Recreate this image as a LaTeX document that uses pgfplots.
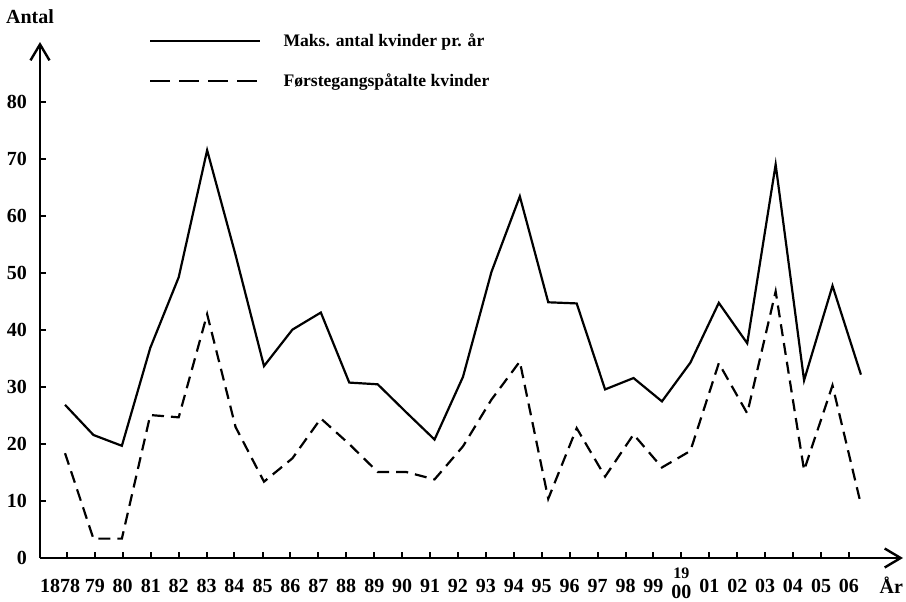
\documentclass[border=0pt]{standalone}
\usepackage{fontspec}
\setmainfont{Liberation Serif}
\usepackage{pgfplots}
\pgfplotsset{compat=1.18}
\usetikzlibrary{arrows.meta}

% 1 px of the reference = 0.5pt
\newcommand\tickfont{\bfseries\fontsize{10}{11}\selectfont}
\newcommand\legfont{\bfseries\fontsize{8.8}{10}\selectfont}

\begin{document}
\begin{tikzpicture}
\begin{axis}[
  name=a,
  scale only axis,
  width=431.5pt, height=258pt,
  xmin=1877.12, xmax=1907.48,
  ymin=0, ymax=90.6,
  axis lines=left,
  axis line style={line width=1.2pt, -{Straight Barb[length=8pt,width=9.5pt,line width=1.2pt]}},
  tick align=inside,
  major tick length=3pt,
  tick style={line width=1pt, black},
  xtick={1878.07,1879.05,1880.03,1881.02,1882.00,1882.98,1883.96,1884.95,1885.93,
         1886.91,1887.89,1888.88,1889.86,1890.84,1891.82,1892.81,1893.79,1894.77,
         1895.75,1896.74,1897.72,1898.70,1899.68,1900.67,1901.65,1902.63,1903.61,
         1904.60,1905.58},
  xticklabels={{\makebox[0pt][r]{1878\hspace*{-6.5pt}}},79,80,81,82,83,84,85,86,87,88,89,90,91,92,93,94,95,96,97,98,99,
               {\smash{\raisebox{-9.5pt}{\shortstack{{\fontsize{8}{8}\selectfont 19}\\00}}}},
               01,02,03,04,05,06},
  xticklabel style={font=\tickfont, yshift=-7pt},
  ytick={0,10,...,80},
  yticklabel style={font=\tickfont, xshift=-3pt},
  /pgf/number format/assume math mode=true,
  xlabel={År},
  xlabel style={at={(axis description cs:1,0)}, anchor=north east, font=\tickfont, yshift=-6pt, xshift=3.5pt},
  ylabel={Antal},
  ylabel style={rotate=-90, at={(axis description cs:0,1)}, anchor=south, font=\tickfont, xshift=-5pt, yshift=5.5pt},
  legend style={draw=none, fill=none, at={(axis description cs:0.126,1.025)}, anchor=north west,
                font=\legfont, row sep=8pt, inner sep=0pt},
  legend cell align=left,
]
\addplot[black, line width=1.1pt,
  legend image code/.code={\draw[black, line width=1.1pt] (0pt,0pt) -- (55pt,0pt);}]
  coordinates {
  (1878,26.9) (1879,21.6) (1880,19.7) (1881,36.9) (1882,49.3) (1883,71.6)
  (1884,53.2) (1885,33.7) (1886,40.1) (1887,43.1) (1888,30.8) (1889,30.5)
  (1890,25.6) (1891,20.8) (1892,31.8) (1893,50.2) (1894,63.5) (1895,44.9)
  (1896,44.7) (1897,29.6) (1898,31.6) (1899,27.5) (1900,34.3) (1901,44.8)
  (1902,37.7) (1903,69.1) (1904,31.2) (1905,47.8) (1906,32.2)};
\addlegendentry{\hspace{9pt}Maks. antal kvinder pr. år}
\addplot[black, line width=1.1pt, dash pattern=on 6pt off 3.5pt,
  legend image code/.code={\draw[black, line width=1.2pt, dash pattern=on 10pt off 4.5pt] (0pt,0pt) -- (55pt,0pt);}]
  coordinates {
  (1878,18.4) (1879,3.4) (1880,3.4) (1881,25.1) (1882,24.7) (1883,42.8)
  (1884,23.0) (1885,13.4) (1886,17.5) (1887,24.5) (1888,20.0) (1889,15.1)
  (1890,15.1) (1891,13.8) (1892,19.6) (1893,27.8) (1894,34.5) (1895,10.4)
  (1896,22.8) (1897,14.3) (1898,21.7) (1899,15.9) (1900,18.8) (1901,34.2)
  (1902,25.4) (1903,46.8) (1904,15.4) (1905,30.3) (1906,9.4)};
\addlegendentry{\hspace{9pt}Førstegangspåtalte kvinder}
\end{axis}
\pgfresetboundingbox
\path (a.south west) ++(-20pt,-21.5pt) rectangle ++(453pt,300.5pt);
\end{tikzpicture}
\end{document}
